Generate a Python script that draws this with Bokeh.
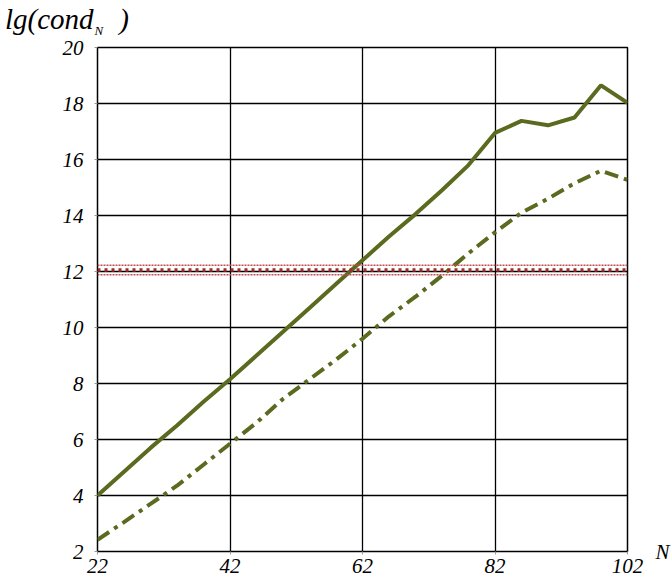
from bokeh.plotting import figure
from bokeh.models import Range1d, Span, FixedTicker, LinearAxis, Div
from bokeh.layouts import column
from bokeh.embed import file_html
from bokeh.resources import INLINE

# ---- data ----
N = [22, 26, 30, 34, 38, 42, 46, 50, 54, 58, 62, 66, 70, 74, 78, 82, 86, 90, 94, 98, 102]
cond_solid = [4.0, 4.85, 5.7, 6.5, 7.35, 8.15, 9.0, 9.85, 10.7, 11.55, 12.4,
              13.25, 14.05, 14.9, 15.8, 16.95, 17.38, 17.22, 17.5, 18.65, 18.02]
cond_dashdot = [2.42, 3.05, 3.7, 4.35, 5.1, 5.85, 6.6, 7.45, 8.15, 8.85, 9.6,
                10.4, 11.1, 11.85, 12.65, 13.4, 14.1, 14.6, 15.15, 15.6, 15.27]
threshold_main = 12.05
threshold_band = [11.88, 12.22]
x_ticks = [22, 42, 62, 82, 102]
y_ticks = [2, 4, 6, 8, 10, 12, 14, 16, 18, 20]
title_parts = ["lg(cond", "N", ")"]
x_title = "N"

OLIVE = "#5A6A1E"
FONT = "Liberation Serif"
W = 672
HEAD_H = 36

# ---- header holding the y-axis title ----
head_html = (
    '<div style="position:relative; width:%dpx; height:%dpx; overflow:visible;">'
    '<div style="position:absolute; left:5px; top:5px; font-family:\'%s\', \'Times New Roman\', serif; '
    'font-style:italic; font-size:29px; line-height:29px; color:black; white-space:nowrap;">'
    '%s<span style="font-size:13px; position:relative; top:6px; margin-left:1px;">%s</span>'
    '<span style="margin-left:16px;">%s</span></div></div>'
    % (W, HEAD_H, FONT, title_parts[0], title_parts[1], title_parts[2])
)
head = Div(text=head_html, width=W, height=HEAD_H, margin=(0, 0, 0, 0))

# ---- main chart ----
p = figure(width=W, height=583 - HEAD_H, x_range=Range1d(22, 102), y_range=Range1d(2, 20),
           output_backend="svg", toolbar_location=None,
           min_border_left=97, min_border_top=47 - HEAD_H, min_border_right=45,
           min_border_bottom=32)
p.background_fill_color = "white"
p.border_fill_color = "white"
p.outline_line_color = "black"
p.outline_line_width = 1.5
p.outline_line_alpha = 1.0

p.xaxis.ticker = FixedTicker(ticks=x_ticks)
p.yaxis.ticker = FixedTicker(ticks=y_ticks)
p.grid.grid_line_color = "black"
p.grid.grid_line_width = 1.3
p.grid.grid_line_alpha = 1.0

for ax in (p.xaxis, p.yaxis):
    ax.axis_line_color = None
    ax.major_tick_in = 0
    ax.major_tick_out = 3
    ax.major_tick_line_color = "#999999"
    ax.minor_tick_line_color = None
    ax.major_label_text_font = FONT
    ax.major_label_text_font_style = "italic"
    ax.major_label_text_font_size = "21px"
    ax.major_label_text_color = "black"
p.yaxis.major_label_standoff = 11
p.xaxis.major_label_standoff = 4

# x-axis title "N" at the lower right, as a label of a right-hand axis
rax = LinearAxis(ticker=FixedTicker(ticks=[2]), major_label_overrides={2: x_title})
rax.axis_line_color = None
rax.major_tick_line_color = None
rax.minor_tick_line_color = None
rax.major_tick_in = 0
rax.major_tick_out = 0
rax.major_label_standoff = 28
rax.major_label_text_font = FONT
rax.major_label_text_font_style = "italic"
rax.major_label_text_font_size = "21px"
rax.major_label_text_color = "black"
p.add_layout(rax, "right")

# threshold lines
for yv in threshold_band:
    p.add_layout(Span(location=yv, dimension="width", line_color="#C0504D",
                      line_width=1.5, line_dash="2 1"))
p.add_layout(Span(location=threshold_main, dimension="width", line_color="#A3282B",
                  line_width=3.5, line_dash="3 4"))

# curves
p.line(N, cond_solid, line_color=OLIVE, line_width=4)
p.line(N, cond_dashdot, line_color=OLIVE, line_width=4, line_dash="14 6 4 6")

layout = column(head, p, spacing=0)
open("out.html", "w").write(file_html(layout, INLINE))
